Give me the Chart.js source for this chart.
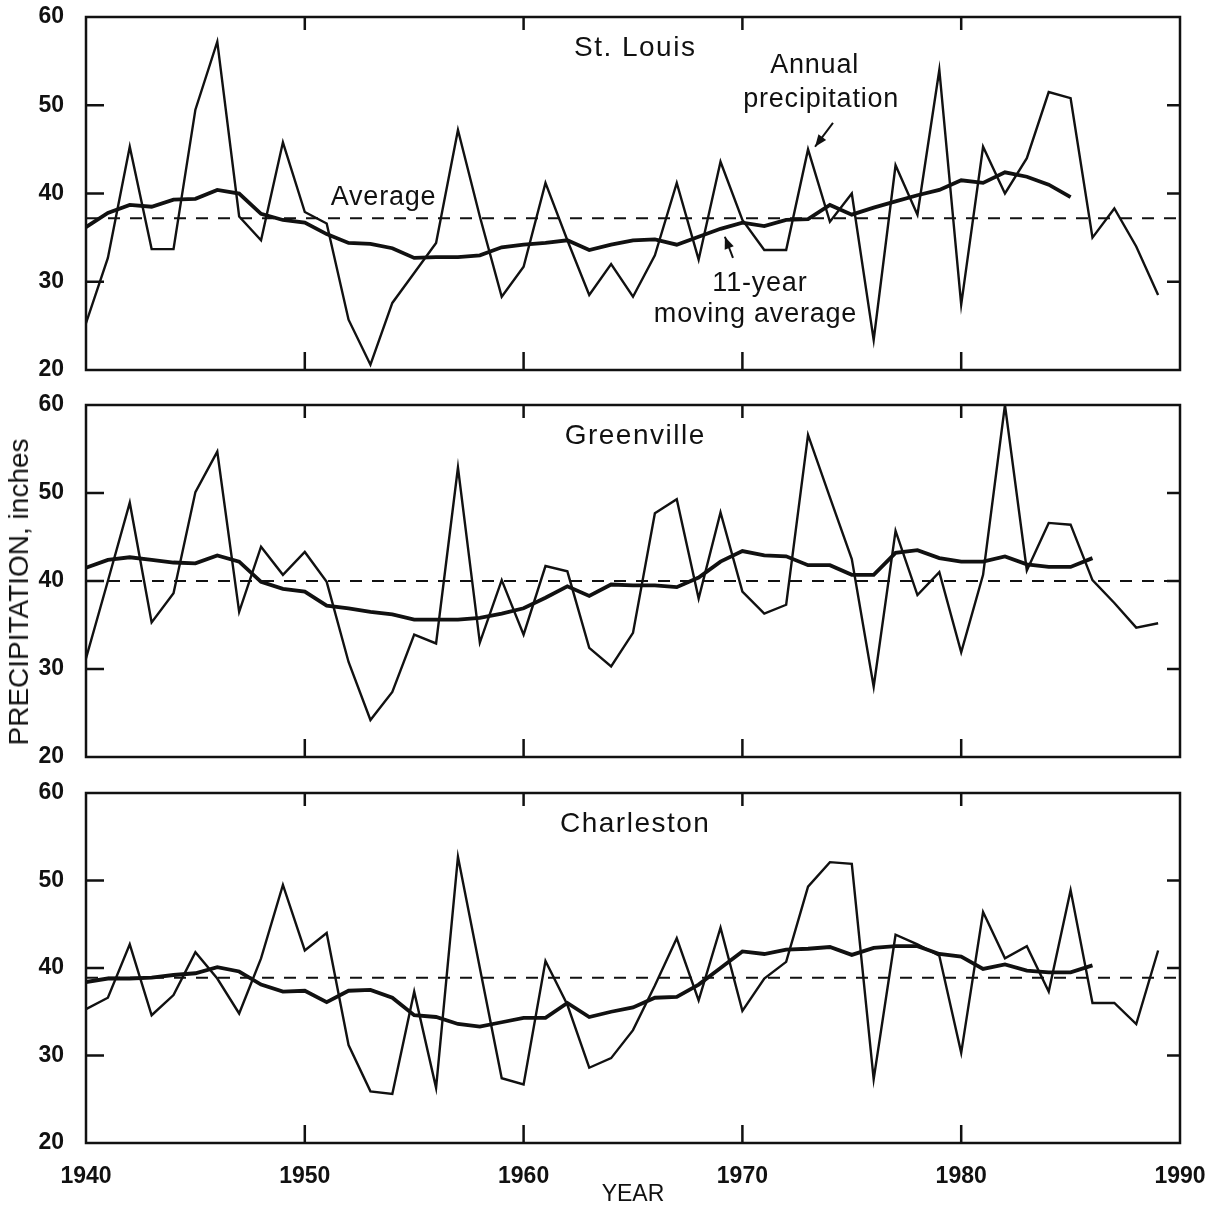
<!DOCTYPE html>
<html>
<head>
<meta charset="utf-8">
<script src="https://cdn.jsdelivr.net/npm/chart.js@4.4.1/dist/chart.umd.min.js"></script>
<style>
  body { margin: 0; background: #fff; }
  #wrap { position: relative; width: 1205px; height: 1210px; overflow: hidden; background: #fff; }
  canvas { position: absolute; left: 0; }
  #ylabel {
    position: absolute; left: 19px; top: 592px;
    font: 28px "Liberation Sans", Arial, sans-serif; color: #111; white-space: nowrap;
    transform: translate(-50%, -50%) rotate(-90deg);
  }
</style>
</head>
<body>
<div id="wrap">
  <canvas id="stl" width="1205" height="387" style="top:0px"></canvas>
  <canvas id="gre" width="1205" height="386" style="top:388px"></canvas>
  <canvas id="cha" width="1205" height="434" style="top:776px"></canvas>
  <div id="ylabel">PRECIPITATION, inches</div>
</div>
<script>
const INK = "#111";
const FONT = '"Liberation Sans", Arial, sans-serif';

// years of record
const years = [1940, 1941, 1942, 1943, 1944, 1945, 1946, 1947, 1948, 1949,
               1950, 1951, 1952, 1953, 1954, 1955, 1956, 1957, 1958, 1959,
               1960, 1961, 1962, 1963, 1964, 1965, 1966, 1967, 1968, 1969,
               1970, 1971, 1972, 1973, 1974, 1975, 1976, 1977, 1978, 1979,
               1980, 1981, 1982, 1983, 1984, 1985, 1986, 1987, 1988, 1989];
const xTicks = [1940, 1950, 1960, 1970, 1980, 1990];
const yTicks = [20, 30, 40, 50, 60];

// annual precipitation, inches
const stLouisAnnual = [25.3, 32.7, 45.3, 33.7, 33.7, 49.5, 57.2, 37.4, 34.7, 45.8,
                       37.9, 36.6, 25.7, 20.6, 27.6, 31.0, 34.4, 47.2, 37.4, 28.3,
                       31.7, 41.2, 34.7, 28.5, 32.0, 28.3, 33.0, 41.2, 32.5, 43.6,
                       37.0, 33.6, 33.6, 45.0, 36.8, 40.0, 23.4, 43.2, 37.6, 54.0,
                       27.4, 45.3, 40.0, 44.0, 51.5, 50.8, 35.0, 38.3, 34.0, 28.5];
const greenvilleAnnual = [31.2, 40.0, 48.9, 35.3, 38.6, 50.1, 54.7, 36.5, 43.9, 40.7,
                          43.3, 39.9, 30.8, 24.2, 27.4, 33.9, 32.9, 52.9, 33.0, 40.1,
                          33.9, 41.7, 41.1, 32.4, 30.3, 34.1, 47.7, 49.3, 38.0, 47.8,
                          38.8, 36.3, 37.3, 56.6, 49.5, 42.5, 28.0, 45.7, 38.4, 41.0,
                          31.9, 40.7, 60.0, 41.2, 46.6, 46.4, 40.1, 37.5, 34.7, 35.2];
const charlestonAnnual = [35.3, 36.6, 42.7, 34.6, 36.9, 41.8, 38.8, 34.8, 41.1, 49.5,
                          42.0, 44.0, 31.2, 25.9, 25.6, 37.3, 26.3, 52.7, 40.0, 27.4,
                          26.7, 40.8, 35.8, 28.6, 29.7, 32.9, 38.0, 43.4, 36.3, 44.6,
                          35.1, 38.8, 40.7, 49.3, 52.1, 51.9, 27.3, 43.8, 42.7, 41.4,
                          30.3, 46.4, 41.1, 42.5, 37.3, 48.9, 36.0, 36.0, 33.6, 42.0];

// 11-year moving averages, starting 1940
const stLouisMA = [36.2, 37.8, 38.7, 38.5, 39.3, 39.4, 40.4, 40.0, 37.7, 37.0,
                   36.7, 35.4, 34.4, 34.3, 33.8, 32.7, 32.8, 32.8, 33.0, 33.9,
                   34.2, 34.4, 34.7, 33.6, 34.2, 34.7, 34.8, 34.2, 35.1, 36.0,
                   36.7, 36.3, 37.0, 37.1, 38.7, 37.6, 38.4, 39.1, 39.8, 40.4,
                   41.5, 41.2, 42.4, 41.9, 41.0, 39.6];
const greenvilleMA = [41.5, 42.4, 42.7, 42.4, 42.1, 42.0, 42.9, 42.2, 39.9, 39.1,
                      38.8, 37.2, 36.9, 36.5, 36.2, 35.6, 35.6, 35.6, 35.8, 36.3,
                      36.9, 38.1, 39.4, 38.3, 39.6, 39.5, 39.5, 39.3, 40.4, 42.2,
                      43.4, 42.9, 42.8, 41.8, 41.8, 40.7, 40.7, 43.2, 43.5, 42.6,
                      42.2, 42.2, 42.8, 41.9, 41.6, 41.6, 42.6];
const charlestonMA = [38.4, 38.8, 38.8, 38.9, 39.2, 39.4, 40.1, 39.6, 38.1, 37.3,
                      37.4, 36.1, 37.4, 37.5, 36.6, 34.6, 34.4, 33.6, 33.3, 33.8,
                      34.3, 34.3, 36.0, 34.4, 35.0, 35.5, 36.6, 36.7, 38.1, 40.0,
                      41.9, 41.6, 42.1, 42.2, 42.4, 41.5, 42.3, 42.5, 42.5, 41.6,
                      41.3, 39.9, 40.4, 39.7, 39.5, 39.5, 40.3];

const stations = ["St. Louis", "Greenville", "Charleston"];
const longTermAverage = [37.2, 40.0, 38.9];

// text notes placed in data units (year, inches at baseline)
const stLouisNotes = [
  { text: "Annual", x: 1973.3, y: 53.6 },
  { text: "precipitation", x: 1973.6, y: 49.8 },
  { text: "Average", x: 1953.6, y: 38.7 },
  { text: "11-year", x: 1970.8, y: 29.0 },
  { text: "moving average", x: 1970.6, y: 25.4 }
];
const stLouisArrows = [
  { from: [1974.14, 48.0], to: [1973.32, 45.3] },
  { from: [1969.57, 32.7], to: [1969.2, 35.1] }
];

const framePlugin = {
  id: "frame",
  afterDraw(chart, args, opts) {
    const { ctx, chartArea: a } = chart;
    const x = chart.scales.x, y = chart.scales.y;
    ctx.save();
    ctx.strokeStyle = INK;
    ctx.fillStyle = INK;
    ctx.lineWidth = 2.5;
    ctx.strokeRect(a.left, a.top, a.right - a.left, a.bottom - a.top);

    // inward tick marks
    ctx.beginPath();
    yTicks.slice(1, -1).forEach(v => {
      const py = y.getPixelForValue(v);
      ctx.moveTo(a.left, py); ctx.lineTo(a.left + 18, py);
      ctx.moveTo(a.right, py); ctx.lineTo(a.right - 13, py);
    });
    xTicks.slice(1, -1).forEach(v => {
      const px = x.getPixelForValue(v);
      ctx.moveTo(px, a.bottom); ctx.lineTo(px, a.bottom - 18);
      ctx.moveTo(px, a.top); ctx.lineTo(px, a.top + 13);
    });
    ctx.stroke();

    ctx.textAlign = "center";
    ctx.textBaseline = "alphabetic";
    // station name
    ctx.font = "28px " + FONT;
    ctx.letterSpacing = "1.5px";
    ctx.fillText(opts.title, x.getPixelForValue(1965.1), y.getPixelForValue(55.6));
    ctx.font = "27px " + FONT;
    ctx.letterSpacing = "0.8px";
    (opts.notes || []).forEach(n => {
      ctx.fillText(n.text, x.getPixelForValue(n.x), y.getPixelForValue(n.y));
    });

    ctx.lineWidth = 2;
    (opts.arrows || []).forEach(ar => {
      const x0 = x.getPixelForValue(ar.from[0]), y0 = y.getPixelForValue(ar.from[1]);
      const x1 = x.getPixelForValue(ar.to[0]), y1 = y.getPixelForValue(ar.to[1]);
      const ang = Math.atan2(y1 - y0, x1 - x0);
      ctx.beginPath();
      ctx.moveTo(x0, y0); ctx.lineTo(x1, y1);
      ctx.stroke();
      ctx.beginPath();
      ctx.moveTo(x1, y1);
      ctx.lineTo(x1 - 13 * Math.cos(ang - 0.38), y1 - 13 * Math.sin(ang - 0.38));
      ctx.lineTo(x1 - 13 * Math.cos(ang + 0.38), y1 - 13 * Math.sin(ang + 0.38));
      ctx.closePath();
      ctx.fill();
    });
    ctx.restore();
  }
};

function makePanel(id, idx, annual, movingAvg, notes, arrows, isLast) {
  const annualPts = annual.map((v, i) => ({ x: years[i], y: v }));
  const maPts = movingAvg.map((v, i) => ({ x: years[i], y: v }));
  const avgPts = [{ x: xTicks[0], y: longTermAverage[idx] }, { x: xTicks[xTicks.length - 1], y: longTermAverage[idx] }];

  return new Chart(document.getElementById(id), {
    type: "line",
    data: {
      datasets: [
        { label: "Average", data: avgPts, borderColor: INK, borderWidth: 2, borderDash: [12, 10], pointRadius: 0 },
        { label: "Annual precipitation", data: annualPts, borderColor: INK, borderWidth: 2.4, pointRadius: 0, tension: 0 },
        { label: "11-year moving average", data: maPts, borderColor: INK, borderWidth: 3.8, pointRadius: 0, tension: 0 }
      ]
    },
    options: {
      responsive: false,
      animation: false,
      devicePixelRatio: 1,
      layout: { padding: { left: 0, right: 25, top: 17, bottom: isLast ? 0 : 17 } },
      plugins: {
        legend: { display: false },
        tooltip: { enabled: false },
        frame: { title: stations[idx], notes: notes, arrows: arrows }
      },
      scales: {
        x: {
          type: "linear", min: xTicks[0], max: xTicks[xTicks.length - 1],
          display: isLast,
          grid: { display: false },
          border: { display: false },
          afterBuildTicks: s => { s.ticks = xTicks.map(v => ({ value: v })); },
          ticks: {
            font: { family: FONT, size: 23, weight: "bold" }, color: INK, padding: 12,
            maxRotation: 0, autoSkip: false, callback: v => String(v)
          },
          title: { display: true, text: "YEAR", font: { family: FONT, size: 23 }, color: INK, padding: { top: 0, bottom: 2 } },
          afterFit: s => {
            s.height = isLast ? 67 : 0;
            s.paddingLeft = 0; s.paddingRight = 0;
          }
        },
        y: {
          min: yTicks[0], max: yTicks[yTicks.length - 1],
          grid: { display: false },
          border: { display: false },
          afterBuildTicks: s => { s.ticks = yTicks.map(v => ({ value: v })); },
          ticks: { font: { family: FONT, size: 23, weight: "bold" }, color: INK, padding: 14 },
          afterFit: s => {
            s.width = 86;
            s.paddingTop = 0; s.paddingBottom = 0;
          }
        }
      }
    },
    plugins: [framePlugin]
  });
}

makePanel("stl", 0, stLouisAnnual, stLouisMA, stLouisNotes, stLouisArrows, false);
makePanel("gre", 1, greenvilleAnnual, greenvilleMA, [], [], false);
makePanel("cha", 2, charlestonAnnual, charlestonMA, [], [], true);
</script>
</body>
</html>
